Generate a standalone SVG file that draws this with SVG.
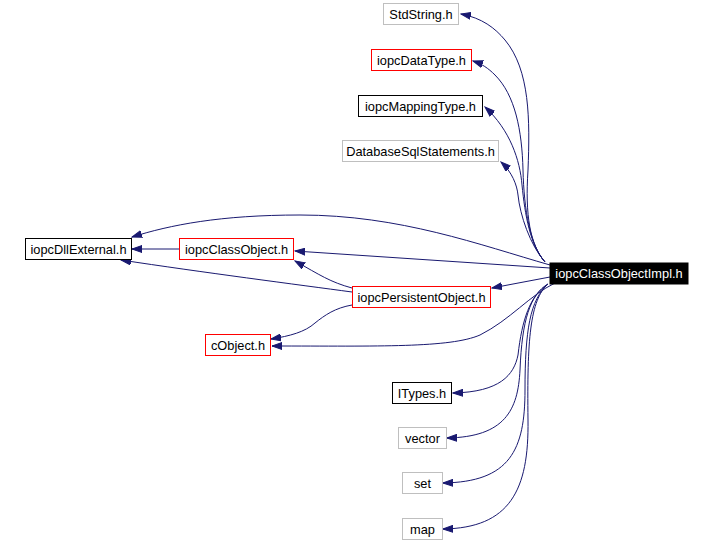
<svg xmlns="http://www.w3.org/2000/svg" width="713" height="542" viewBox="0 0 713 542">
<style>
.n rect{stroke-width:1;fill:#fff}
.n text{font-family:"Liberation Sans",Arial,sans-serif;font-size:12.8px;text-anchor:middle;fill:#000}
.g rect{stroke:#bfbfbf}
.r rect{stroke:#ff0000}
.k rect{stroke:#000}
.e path{fill:none;stroke:#191970;stroke-width:1;marker-end:url(#ah)}
</style>
<defs>
<marker id="ah" markerUnits="userSpaceOnUse" markerWidth="11" markerHeight="8" refX="10" refY="4" orient="auto">
<path d="M0,0.5 L10,4 L0,7.5 z" fill="#191970" stroke="#191970" stroke-width="1"/>
</marker>
</defs>
<rect width="713" height="542" fill="#fff"/>
<g id="edges" class="e">
<path d="M545,262 C530,245 525,215 528,170 C530,120 530,70 505,40 C495,28 482,18 461,14"/>
<path d="M545,262 C530,245 524,210 523,170 C522,130 515,95 495,75 C488,68 482,64 473,61"/>
<path d="M545,262 C530,245 525,215 522,185 C520,160 510,130 485,107"/>
<path d="M545,262 C530,245 520,215 518,195 C517,185 512,172 501,162"/>
<path d="M550,265 C480,245 400,215 300,215 C220,215 170,225 132,237"/>
<path d="M550,268 L295,251"/>
<path d="M550,277 L492,288"/>
<path d="M555,283 C530,295 510,320 480,335 C450,348 380,346 272,346"/>
<path d="M548,284 C530,295 522,320 518,355 C514,375 500,392 453,393"/>
<path d="M548,284 C530,295 522,320 520,370 C518,410 505,437 447,438"/>
<path d="M548,284 C530,300 525,330 525,390 C525,450 510,482 443,483"/>
<path d="M548,284 C530,300 527,340 528,420 C529,490 510,528 443,529"/>
<path d="M179,249 L132,249"/>
<path d="M352,292 C300,285 200,272 121,260"/>
<path d="M352,288 C330,282 320,275 295,261"/>
<path d="M352,305 C335,308 325,315 315,323 C305,332 290,336 271,339"/>
</g>
<g id="StdString" class="n g"><rect x="383.5" y="3.5" width="75" height="21"/><text x="421" y="18.5">StdString.h</text></g>
<g id="iopcDataType" class="n r"><rect x="371.5" y="49.5" width="100" height="21"/><text x="421.5" y="64.5">iopcDataType.h</text></g>
<g id="iopcMappingType" class="n k"><rect x="358.5" y="95.5" width="124" height="21"/><text x="420.5" y="110.5">iopcMappingType.h</text></g>
<g id="DatabaseSqlStatements" class="n g"><rect x="342.5" y="140.5" width="156" height="21"/><text x="420.5" y="155.5">DatabaseSqlStatements.h</text></g>
<g id="iopcDllExternal" class="n k"><rect x="25.5" y="238.5" width="106" height="21"/><text x="78.5" y="253.5">iopcDllExternal.h</text></g>
<g id="iopcClassObject" class="n r"><rect x="179.5" y="238.5" width="114" height="21"/><text x="236.5" y="253.5">iopcClassObject.h</text></g>
<g id="iopcPersistentObject" class="n r"><rect x="352.5" y="286.5" width="138" height="21"/><text x="421.5" y="301.5">iopcPersistentObject.h</text></g>
<g id="cObject" class="n r"><rect x="205.5" y="334.5" width="65" height="21"/><text x="238" y="349.5">cObject.h</text></g>
<g id="iopcClassObjectImpl" class="n"><rect x="550" y="263" width="138" height="21" fill="#000" stroke="#000" style="fill:#000"/><text x="619" y="278" style="fill:#fff">iopcClassObjectImpl.h</text></g>
<g id="ITypes" class="n k"><rect x="392.5" y="382.5" width="59" height="21"/><text x="422" y="397.5">ITypes.h</text></g>
<g id="vector" class="n g"><rect x="398.5" y="427.5" width="48" height="21"/><text x="422.5" y="442.5">vector</text></g>
<g id="set" class="n g"><rect x="402.5" y="472.5" width="40" height="21"/><text x="422.5" y="487.5">set</text></g>
<g id="map" class="n g"><rect x="402.5" y="518.5" width="40" height="21"/><text x="422.5" y="533.5">map</text></g>
</svg>
